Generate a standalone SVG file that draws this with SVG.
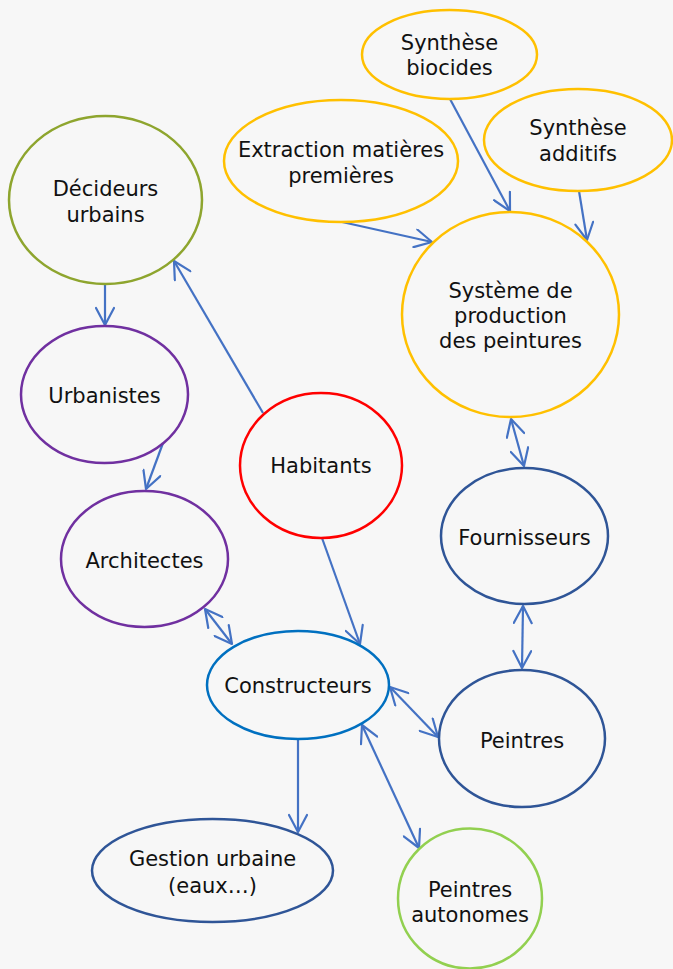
<svg xmlns="http://www.w3.org/2000/svg" width="673" height="969" viewBox="0 0 673 969">
<style>
.n{fill:none;stroke-width:2.5}
.t{font-family:"DejaVu Sans","Verdana",sans-serif;font-size:21px;fill:#111;text-anchor:middle}
.c{fill:none;stroke:#4472c4;stroke-width:2.2}
.y{stroke:#ffc000}.g{stroke:#8ea52e}.p{stroke:#7030a0}.r{stroke:#ff0000}.b{stroke:#2f5597}.k{stroke:#0070c0}.l{stroke:#92d050}
</style>
<defs>
<marker id="a" markerUnits="userSpaceOnUse" viewBox="0 0 20 20" markerWidth="20" markerHeight="20" refX="19" refY="10" orient="auto-start-reverse">
<path d="M2,1 L19,10 L2,19" fill="none" stroke="#4472c4" stroke-width="2.2" stroke-linecap="round" stroke-linejoin="round"/>
</marker>
</defs>
<rect width="673" height="969" fill="#f7f7f7"/>
<g id="connectors">
<line class="c" x1="105" y1="285" x2="105" y2="325" marker-end="url(#a)"/>
<line class="c" x1="263" y1="413" x2="174" y2="261" marker-end="url(#a)"/>
<line class="c" x1="163" y1="443" x2="146" y2="489" marker-end="url(#a)"/>
<line class="c" x1="205" y1="609" x2="232" y2="644" marker-start="url(#a)" marker-end="url(#a)"/>
<line class="c" x1="322" y1="538" x2="360" y2="644" marker-end="url(#a)"/>
<line class="c" x1="342" y1="222" x2="432" y2="242" marker-end="url(#a)"/>
<line class="c" x1="450" y1="99" x2="510" y2="211" marker-end="url(#a)"/>
<line class="c" x1="579" y1="191" x2="587" y2="240" marker-end="url(#a)"/>
<line class="c" x1="511" y1="419" x2="524" y2="466" marker-start="url(#a)" marker-end="url(#a)"/>
<line class="c" x1="523" y1="606" x2="522" y2="668" marker-start="url(#a)" marker-end="url(#a)"/>
<line class="c" x1="390" y1="687" x2="438" y2="737" marker-start="url(#a)" marker-end="url(#a)"/>
<line class="c" x1="362" y1="725" x2="419" y2="848" marker-start="url(#a)" marker-end="url(#a)"/>
<line class="c" x1="298" y1="740" x2="298" y2="832" marker-end="url(#a)"/>
</g>
<g id="decideurs"><ellipse class="n g" cx="105.5" cy="200" rx="96.5" ry="84"/><text class="t" x="105.5" y="196">Décideurs</text><text class="t" x="105.5" y="222">urbains</text></g>
<g id="extraction"><ellipse class="n y" cx="341" cy="161" rx="117" ry="61"/><text class="t" x="341" y="157">Extraction matières</text><text class="t" x="341" y="183">premières</text></g>
<g id="biocides"><ellipse class="n y" cx="449.5" cy="54.5" rx="87.5" ry="44.5"/><text class="t" x="449.5" y="50">Synthèse</text><text class="t" x="449.5" y="75">biocides</text></g>
<g id="additifs"><ellipse class="n y" cx="578" cy="140" rx="94" ry="51"/><text class="t" x="578" y="135">Synthèse</text><text class="t" x="578" y="161">additifs</text></g>
<g id="systeme"><ellipse class="n y" cx="510.5" cy="314.5" rx="108.5" ry="102.5"/><text class="t" x="510.5" y="298">Système de</text><text class="t" x="510.5" y="323">production</text><text class="t" x="510.5" y="348">des peintures</text></g>
<g id="urbanistes"><ellipse class="n p" cx="104.5" cy="394.5" rx="83.5" ry="68.5"/><text class="t" x="104.5" y="403">Urbanistes</text></g>
<g id="architectes"><ellipse class="n p" cx="144.5" cy="559" rx="83.5" ry="68"/><text class="t" x="144.5" y="568">Architectes</text></g>
<g id="habitants"><ellipse class="n r" cx="321" cy="465.5" rx="81" ry="72.5"/><text class="t" x="321" y="473">Habitants</text></g>
<g id="fournisseurs"><ellipse class="n b" cx="524.5" cy="536" rx="83.5" ry="68"/><text class="t" x="524.5" y="545">Fournisseurs</text></g>
<g id="constructeurs"><ellipse class="n k" cx="298" cy="685" rx="91" ry="54"/><text class="t" x="298" y="693">Constructeurs</text></g>
<g id="peintres"><ellipse class="n b" cx="522" cy="738.5" rx="83" ry="68.5"/><text class="t" x="522" y="748">Peintres</text></g>
<g id="gestion"><ellipse class="n b" cx="212.5" cy="870.5" rx="120.5" ry="51.5"/><text class="t" x="212.5" y="866">Gestion urbaine</text><text class="t" x="212.5" y="893">(eaux…)</text></g>
<g id="autonomes"><ellipse class="n l" cx="470" cy="898.5" rx="72" ry="70"/><text class="t" x="470" y="897">Peintres</text><text class="t" x="470" y="922">autonomes</text></g>
</svg>
